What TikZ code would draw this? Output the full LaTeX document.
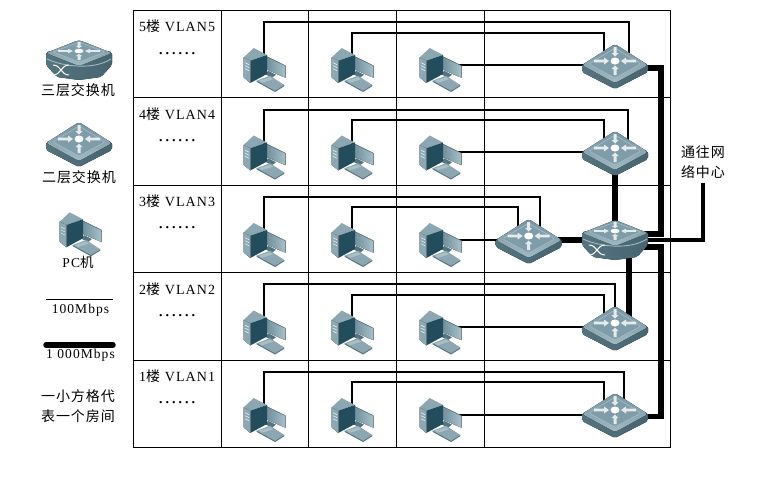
\documentclass[tikz,border=0pt]{standalone}
\usepackage{fontspec}
\setmainfont[LetterSpace=8]{Liberation Serif}
\newfontfamily\plainf{Liberation Serif}
\newfontfamily\cjk[LetterSpace=7]{Noto Sans CJK SC}
\newfontfamily\cjkf[LetterSpace=4]{Noto Sans CJK SC}
\usetikzlibrary{calc}
\definecolor{swtop}{HTML}{7F9DA8}
\definecolor{swtopb}{HTML}{A2B9C1}
\definecolor{swtopd}{HTML}{7393A0}
\definecolor{swdark}{HTML}{55747F}
\definecolor{swmid}{HTML}{8FA9B3}
\definecolor{swright}{HTML}{466570}
\definecolor{swlight}{HTML}{8FA8B2}
\definecolor{pcfront}{HTML}{234D5C}
\definecolor{pcside}{HTML}{8CA7B2}
\definecolor{pcscreen}{HTML}{6F919E}
\definecolor{pcscreenb}{HTML}{A9C0C8}
\tikzset{
  x=1pt,y=-1pt,
  grid/.style={draw=black,line width=1pt},
  thinnet/.style={draw=black,line width=2.2pt},
  thicknet/.style={draw=black,line width=5.4pt},
  devbox/.style={inner sep=0pt,minimum width=44pt,minimum height=44pt},
  lbl/.style={inner sep=0pt,font=\cjk\fontsize{14}{15}\selectfont,align=center},
  floorlbl/.style={inner sep=0pt,font=\fontsize{14}{15}\selectfont,anchor=west},
  speedlbl/.style={inner sep=0pt,font=\fontsize{13.5}{15}\selectfont},
  dots/.style={inner sep=0pt,font=\plainf\fontsize{19.5}{20}\selectfont},
  arrowmark/.style={fill=white,draw=none,opacity=.8},
  arrows/.pic={
    \fill[white] (0,0) ellipse (4.5 and 3.5);
    \foreach \s in {1,-1}{
      \fill[arrowmark] (\s*6,0)--(\s*11,-3.5)--(\s*11,-1.3)--(\s*21,-1.3)--(\s*21,1.3)--(\s*11,1.3)--(\s*11,3.5)--cycle;
      \fill[arrowmark] (0,\s*4.5)--(-3.5,\s*8)--(-1.5,\s*8)--(-1.5,\s*14)--(1.5,\s*14)--(1.5,\s*8)--(3.5,\s*8)--cycle;
    }
  },
  l2sw/.pic={
    \fill[left color=swdark,middle color=swmid,right color=swright,rounded corners=2pt] (-33,3)--(-33,11)--(0,28)--(33,11)--(33,3)--(0,-5)--cycle;
    \fill[top color=swtopd,bottom color=swtopb,rounded corners=3pt] (-33,4)--(0,-17)--(33,4)--(0,22)--cycle;
    \fill[swtop,rounded corners=2pt] (-26,3)--(0,-13)--(26,3)--(0,17)--cycle;
    \draw[swtopb,line width=.7pt,rounded corners=2pt] (-26,3)--(0,-13)--(26,3)--(0,17)--cycle;
    \pic {arrows};
  },
  l3sw/.pic={
    \fill[left color=swdark,middle color=swmid,right color=swright,rounded corners=2pt] (-33,1)--(-33,14)--(-22,26)--(0,29)--(22,26)--(33,14)--(33,1)--(0,-4)--cycle;
    \fill[top color=swtopd,bottom color=swtopb,rounded corners=3pt] (-33,2)--(0,-11)--(33,2)--(0,15)--cycle;
    \fill[swtop,rounded corners=2pt] (-26,1)--(0,-9)--(26,1)--(0,11)--cycle;
    \draw[swtopb,line width=.7pt,rounded corners=2pt] (-26,1)--(0,-9)--(26,1)--(0,11)--cycle;
    \draw[swtopb,line width=.9pt] (-32,8)..controls (-15,16) and (15,19) .. (32,8);
    \draw[white,line width=1pt] (-26,14)..controls (-18,14) and (-18,24) .. (-10,24);
    \draw[white,line width=1pt] (-26,24)..controls (-18,24) and (-18,14) .. (-10,14);
    \pic[yscale=.65] {arrows};
  },
  pcicon/.pic={
    % monitor
    \fill[left color=pcscreen,right color=pcscreenb] (3,-14)--(21.3,-5)--(21.3,7)--(3,-1)--cycle;
    \draw[swdark,line width=.5pt] (3,-14)--(21.3,-5)--(21.3,7);
    % stand
    \fill[swdark] (4,0)--(12,4)--(8,7)--(2,4)--cycle;
    % keyboard
    \fill[pcside] (-7.3,10)--(6,5)--(20.3,14.3)--(11,20)--cycle;
    \fill[pcscreenb] (-5,10)--(6,6.5)--(9,8.5)--(-2,12)--cycle;
    \fill[swdark] (-7.3,10)--(11,20)--(20.3,14.3)--(20.3,15.5)--(11,21.3)--(-7.3,11.2)--cycle;
    % tower
    \fill[pcside] (-20.3,-13.3)--(-10.3,-22.7)--(3,-15.7)--(-13.7,-10)--cycle;
    \fill[pcfront] (-13.7,-10)--(3,-15.7)--(3,3.3)--(-13.7,12.3)--cycle;
    \fill[left color=swmid,right color=pcside] (-20.3,-13.3)--(-13.7,-10)--(-13.7,12.3)--(-20.3,6.7)--cycle;
    \draw[white,line width=.4pt] (-19,-8)--(-15,-6) (-19,-5)--(-15,-3) (-19,-2)--(-15,0);
  },
}
\begin{document}
\begin{tikzpicture}
\useasboundingbox (0,0) rectangle (772,480);
% grid
\draw[grid] (133,10) rectangle (670,447);
\foreach \yy in {97,185,272,360} \draw[grid] (133,\yy)--(670,\yy);
\foreach \xx in {221,308,396,484} \draw[grid] (\xx,10)--(\xx,447);
% device anchors
\foreach \r/\yy in {5/0,4/87.5,3/175,2/262.5,1/350}{
  \node[devbox] (a\r) at (264,70.7+\yy) {};
  \node[devbox] (b\r) at (352,70.7+\yy) {};
  \node[devbox] (c\r) at (440,70.7+\yy) {};
}
\node[devbox] (s5) at (615,61) {};
\node[devbox] (s4) at (615,148) {};
\node[devbox] (s3) at (528.7,236) {};
\node[devbox] (s2) at (615,323) {};
\node[devbox] (s1) at (615,410) {};
\node[devbox] (core) at (615,231) {};
% thin lines
\foreach \r/\ya/\yb/\xa/\xb in {5/22/33/14/-11,4/110/120/13/-11,3/197/207/11/-11,2/284/295/0/-11,1/372/382/9/-11}{
  \coordinate (ta) at ($(s\r)+(\xa,0)$);
  \coordinate (tb) at ($(s\r)+(\xb,0)$);
  \draw[thinnet] (a\r.center) -- (a\r.center |- 0,\ya) -| (ta);
  \draw[thinnet] (b\r.center) -- (b\r.center |- 0,\yb) -| (tb);
  \draw[thinnet] ($(c\r)+(0,-6)$) -- ($(s\r |- c\r)+(0,-6)$);
}
% thick lines
\coordinate (netend) at (703,183);
\draw[thicknet] ($(s5)+(0,7)$) -| (661,234) -- ($(core)+(0,3)$);
\draw[thicknet] ($(s1)+(0,6.5)$) -| (661,247) -- ($(core)+(0,16)$);
\draw[thicknet] (s4) -- (s4 |- core);
\draw[thicknet] ($(core)+(14,0)$) -- ($(s2)+(14,0)$);
\draw[thicknet] (s3 |- 0,240) -- (core |- 0,240);
\draw[thicknet,line width=4.4pt] (core |- 0,240) -| (netend);
% devices
\foreach \r in {1,...,5}{
  \pic at (a\r) {pcicon};
  \pic at (b\r) {pcicon};
  \pic at (c\r) {pcicon};
}
\foreach \r in {1,2,3,4,5} \pic at (s\r) {l2sw};
\pic at (core) {l3sw};
% floor labels
\foreach \r/\yy/\dd in {5/26/53.5,4/114/141,3/201/228,2/289/316,1/376/403}{
  \node[floorlbl] at (139,\yy) {\r{\cjkf 楼} VLAN\r};
  \node[dots] at (177,\dd) {……};
}
% legend
\node[devbox] (lg3) at (79,51) {};
\pic at (lg3) {l3sw};
\node[lbl] (t3) at (78,90) {三层交换机};
\node[devbox] (lg2) at (79,139) {};
\pic at (lg2) {l2sw};
\node[lbl] (t2) at (79,177) {二层交换机};
\node[devbox] (lgp) at (80,235) {};
\pic at (lgp) {pcicon};
\node[speedlbl] (tp) at (78,262) {PC{\cjkf 机}};
\coordinate (l1a) at (46,299.5);\coordinate (l1b) at (113,299.5);
\draw[draw=black,line width=1.5pt] (l1a)--(l1b);
\node[speedlbl] (t100) at (80.5,310.5) {100Mbps};
\coordinate (l2a) at (46,345);\coordinate (l2b) at (113,345);
\draw[thicknet,line cap=round] (l2a)--(l2b);
\node[speedlbl] (t1000) at (80.5,355) {1 000Mbps};
\node[lbl] (tr1) at (78,396) {一小方格代};
\node[lbl] (tr2) at (78,416) {表一个房间};
\node[lbl] (tn1) at (703,152) {通往网};
\node[lbl] (tn2) at (703,172) {络中心};
\end{tikzpicture}
\end{document}
